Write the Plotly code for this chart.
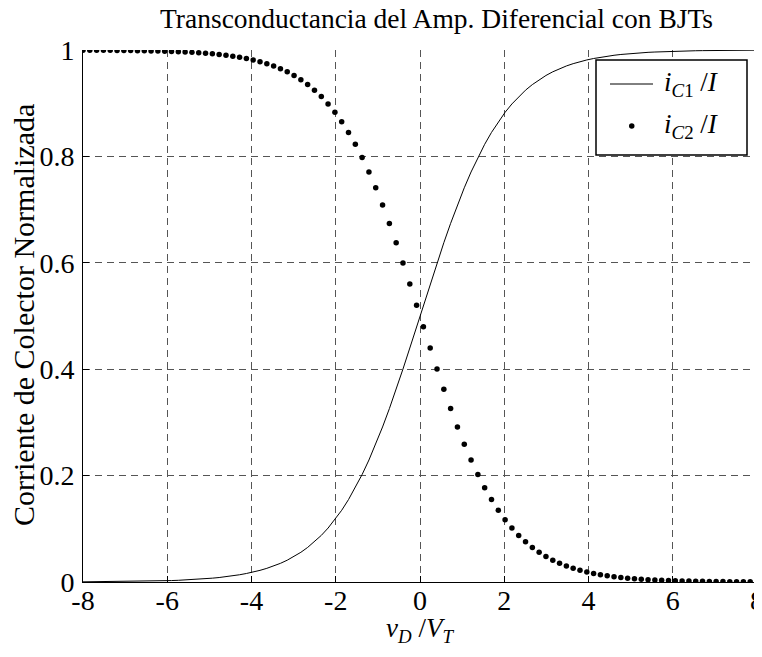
import plotly.graph_objects as go

# x samples (v_D / V_T), 100 points from -8 to 8
vd = [-8.000, -7.838, -7.677, -7.515, -7.354, -7.192, -7.030, -6.869, -6.707, -6.545,
      -6.384, -6.222, -6.061, -5.899, -5.737, -5.576, -5.414, -5.253, -5.091, -4.929,
      -4.768, -4.606, -4.444, -4.283, -4.121, -3.960, -3.798, -3.636, -3.475, -3.313,
      -3.152, -2.990, -2.828, -2.667, -2.505, -2.343, -2.182, -2.020, -1.859, -1.697,
      -1.535, -1.374, -1.212, -1.051, -0.889, -0.727, -0.566, -0.404, -0.242, -0.081,
      0.081, 0.242, 0.404, 0.566, 0.727, 0.889, 1.051, 1.212, 1.374, 1.535,
      1.697, 1.859, 2.020, 2.182, 2.343, 2.505, 2.667, 2.828, 2.990, 3.152,
      3.313, 3.475, 3.636, 3.798, 3.960, 4.121, 4.283, 4.444, 4.606, 4.768,
      4.929, 5.091, 5.253, 5.414, 5.576, 5.737, 5.899, 6.061, 6.222, 6.384,
      6.545, 6.707, 6.869, 7.030, 7.192, 7.354, 7.515, 7.677, 7.838, 8.000]

# i_C1 / I  (solid line)
ic1 = [0.0003, 0.0004, 0.0005, 0.0005, 0.0006, 0.0008, 0.0009, 0.0010, 0.0012, 0.0014,
       0.0017, 0.0020, 0.0023, 0.0027, 0.0032, 0.0038, 0.0044, 0.0052, 0.0061, 0.0072,
       0.0084, 0.0099, 0.0116, 0.0136, 0.0160, 0.0187, 0.0219, 0.0257, 0.0300, 0.0351,
       0.0410, 0.0479, 0.0558, 0.0650, 0.0755, 0.0876, 0.1014, 0.1171, 0.1348, 0.1549,
       0.1773, 0.2020, 0.2293, 0.2590, 0.2914, 0.3259, 0.3622, 0.4003, 0.4398, 0.4798,
       0.5202, 0.5602, 0.5997, 0.6378, 0.6741, 0.7086, 0.7410, 0.7707, 0.7980, 0.8227,
       0.8451, 0.8652, 0.8829, 0.8986, 0.9124, 0.9245, 0.9350, 0.9442, 0.9521, 0.9590,
       0.9649, 0.9700, 0.9743, 0.9781, 0.9813, 0.9840, 0.9864, 0.9884, 0.9901, 0.9916,
       0.9928, 0.9939, 0.9948, 0.9956, 0.9962, 0.9968, 0.9973, 0.9977, 0.9980, 0.9983,
       0.9986, 0.9988, 0.9990, 0.9991, 0.9992, 0.9994, 0.9995, 0.9995, 0.9996, 0.9997]

# i_C2 / I  (dots)
ic2 = [0.9997, 0.9996, 0.9995, 0.9995, 0.9994, 0.9992, 0.9991, 0.9990, 0.9988, 0.9986,
       0.9983, 0.9980, 0.9977, 0.9973, 0.9968, 0.9962, 0.9956, 0.9948, 0.9939, 0.9928,
       0.9916, 0.9901, 0.9884, 0.9864, 0.9840, 0.9813, 0.9781, 0.9743, 0.9700, 0.9649,
       0.9590, 0.9521, 0.9442, 0.9350, 0.9245, 0.9124, 0.8986, 0.8829, 0.8652, 0.8451,
       0.8227, 0.7980, 0.7707, 0.7410, 0.7086, 0.6741, 0.6378, 0.5997, 0.5602, 0.5202,
       0.4798, 0.4398, 0.4003, 0.3622, 0.3259, 0.2914, 0.2590, 0.2293, 0.2020, 0.1773,
       0.1549, 0.1348, 0.1171, 0.1014, 0.0876, 0.0755, 0.0650, 0.0558, 0.0479, 0.0410,
       0.0351, 0.0300, 0.0257, 0.0219, 0.0187, 0.0160, 0.0136, 0.0116, 0.0099, 0.0084,
       0.0072, 0.0061, 0.0052, 0.0044, 0.0038, 0.0032, 0.0027, 0.0023, 0.0020, 0.0017,
       0.0014, 0.0012, 0.0010, 0.0009, 0.0008, 0.0006, 0.0005, 0.0005, 0.0004, 0.0003]

x_ticks = [-8, -6, -4, -2, 0, 2, 4, 6, 8]
x_ticklabels = ["-8", "-6", "-4", "-2", "0", "2", "4", "6", "8"]
y_ticks = [0, 0.2, 0.4, 0.6, 0.8, 1]
y_ticklabels = ["0", "0.2", "0.4", "0.6", "0.8", "1"]

title_text = "Transconductancia del Amp. Diferencial con BJTs"
xlabel = "<i>v</i><sub><i>D</i></sub> /<i>V</i><sub><i>T</i></sub>"
ylabel = "Corriente de Colector Normalizada"
leg1 = "<i>i</i><sub><i>C</i>1</sub> /<i>I</i>"
leg2 = "<i>i</i><sub><i>C</i>2</sub> /<i>I</i>"

FONT = "Liberation Serif"
FS = 27
OFF = 8  # page body margin
W, H = 754, 649
ML, MR, MT, MB = 75, 5, 42, 75

fig = go.Figure()
fig.add_trace(go.Scatter(x=vd, y=ic1, mode="lines", line=dict(color="black", width=1),
                         showlegend=False, hoverinfo="skip"))
fig.add_trace(go.Scatter(x=vd, y=ic2, mode="markers",
                         marker=dict(color="black", size=5.5, line=dict(width=0)),
                         showlegend=False, hoverinfo="skip"))

grid = dict(showgrid=True, gridcolor="#555555", griddash="7px,5px", gridwidth=1)
fig.update_xaxes(range=[-8, 8], tickvals=x_ticks, ticktext=x_ticklabels, ticks="inside",
                 ticklen=6, tickcolor="black", showline=True, linecolor="black",
                 linewidth=1, zeroline=False, automargin=False,
                 ticklabeloverflow="allow", ticklabelstandoff=-7,
                 tickfont=dict(family=FONT, size=28, color="black"), **grid)
fig.update_yaxes(range=[0, 1], tickvals=y_ticks, ticktext=y_ticklabels, ticks="inside",
                 ticklen=6, tickcolor="black", showline=True, linecolor="black",
                 linewidth=1, zeroline=False, automargin=False,
                 ticklabeloverflow="allow", ticklabelstandoff=2,
                 tickfont=dict(family=FONT, size=28, color="black"), **grid)

pw = W - ML - MR
ph = H - MT - MB

def px(xp):
    return (xp - OFF - ML) / pw

def py(yp):
    return (H - MB - (yp - OFF)) / ph

annotations = [
    dict(text=title_text, x=px(436), y=py(18), xref="paper", yref="paper",
         showarrow=False, xanchor="center", yanchor="middle",
         font=dict(family=FONT, size=27.5, color="black")),
    dict(text=xlabel, x=px(420), y=py(630), xref="paper", yref="paper",
         showarrow=False, xanchor="center", yanchor="middle",
         font=dict(family=FONT, size=FS, color="black")),
    dict(text=ylabel, x=px(23), y=py(315), xref="paper", yref="paper",
         showarrow=False, xanchor="center", yanchor="middle", textangle=-90,
         font=dict(family=FONT, size=30, color="black")),
    dict(text=leg1, x=px(662), y=py(84), xref="paper", yref="paper",
         showarrow=False, xanchor="left", yanchor="middle",
         font=dict(family=FONT, size=FS, color="black")),
    dict(text=leg2, x=px(662), y=py(126), xref="paper", yref="paper",
         showarrow=False, xanchor="left", yanchor="middle",
         font=dict(family=FONT, size=FS, color="black")),
]

shapes = [
    dict(type="rect", xref="paper", yref="paper", x0=px(596), x1=px(747),
         y0=py(155), y1=py(60), line=dict(color="black", width=1.5),
         fillcolor="white", layer="above"),
    dict(type="line", xref="paper", yref="paper", x0=px(610), x1=px(653),
         y0=py(84), y1=py(84), line=dict(color="black", width=1), layer="above"),
    dict(type="circle", xref="paper", yref="paper", x0=px(629), x1=px(634.5),
         y0=py(128.7), y1=py(123.2), line=dict(color="black", width=0),
         fillcolor="black", layer="above"),
]

fig.update_layout(width=W, height=H, margin=dict(l=ML, r=MR, t=MT, b=MB),
                  paper_bgcolor="white", plot_bgcolor="white",
                  annotations=annotations, shapes=shapes, showlegend=False)

fig.write_html("out.html")
